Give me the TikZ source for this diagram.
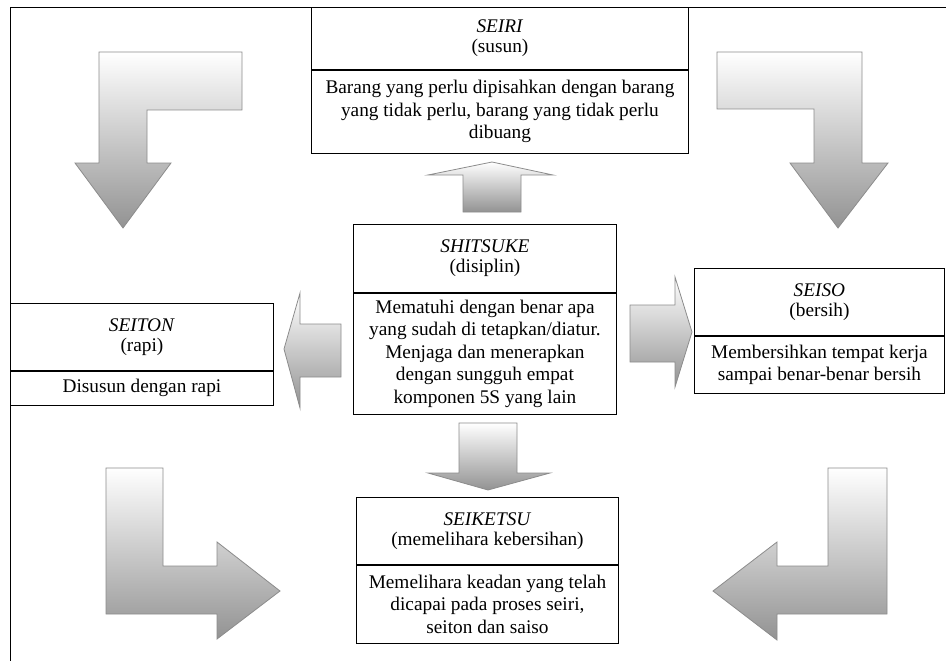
\documentclass[tikz,border=0pt]{standalone}
\usepackage{fontspec}
\setmainfont{Liberation Serif}
\usetikzlibrary{calc}

\begin{document}
\begin{tikzpicture}[x=1pt, y=-1pt,
    part/.style={draw, line width=0.9pt, anchor=north west, inner sep=0pt, align=center,
      font=\fontsize{19.3}{22.5}\selectfont},
    headpart/.style={part, font=\fontsize{19.3}{20}\selectfont},
    blockarrow/.style={draw=gray!90, line width=0.8pt, top color=white, bottom color=gray!85}]
  \useasboundingbox (0,0) rectangle (946,661);
  \draw[line width=0.9pt] (10,661) -- (10,7) -- (946,7);

  \node[headpart, minimum width=377, minimum height=62] (seirihead) at (311,7) {\textit{SEIRI}\\(susun)};
  \node[part, minimum width=377, minimum height=83] (seiribody) at (seirihead.south west)
    {Barang yang perlu dipisahkan dengan barang\\yang tidak perlu, barang yang tidak perlu\\dibuang};

  \node[headpart, minimum width=263, minimum height=68] (shitsukehead) at (353,224) {\textit{SHITSUKE}\\(disiplin)};
  \node[part, minimum width=263, minimum height=121] (shitsukebody) at (shitsukehead.south west)
    {Mematuhi dengan benar apa\\yang sudah di tetapkan/diatur.\\Menjaga dan menerapkan\\dengan sungguh empat\\komponen 5S yang lain};

  \node[headpart, minimum width=263, minimum height=67] (seitonhead) at (10,303) {\textit{SEITON}\\(rapi)};
  \node[part, minimum width=263, minimum height=34] (seitonbody) at (seitonhead.south west) {Disusun dengan rapi};

  \node[headpart, minimum width=250, minimum height=67] (seisohead) at (694,268) {\textit{SEISO}\\(bersih)};
  \node[part, minimum width=250, minimum height=57] (seisobody) at (seisohead.south west)
    {Membersihkan tempat kerja\\sampai benar-benar bersih};

  \node[headpart, minimum width=262, minimum height=67] (seiketsuhead) at (356,497) {\textit{SEIKETSU}\\(memelihara kebersihan)};
  \node[part, minimum width=262, minimum height=78] (seiketsubody) at (seiketsuhead.south west)
    {Memelihara keadan yang telah\\dicapai pada proses seiri,\\seiton dan saiso};

  \draw[blockarrow] (99,52) -- (242,52) -- (242,110) -- (147,110) -- (147,163) -- (171,163)
    -- (123,228) -- (75,163) -- (99,163) -- cycle;
  \draw[blockarrow] (717,52) -- (862,52) -- (862,163) -- (888,163) -- (838,228) -- (790,163)
    -- (814,163) -- (814,109) -- (717,109) -- cycle;
  \draw[blockarrow] (106,468) -- (163,468) -- (163,566) -- (217,566) -- (217,542) -- (280,591)
    -- (217,639) -- (217,614) -- (106,614) -- cycle;
  \draw[blockarrow] (828,468) -- (887,468) -- (887,614) -- (777,614) -- (777,640) -- (713,591)
    -- (777,542) -- (777,566) -- (828,566) -- cycle;

  \draw[blockarrow] (463,212) -- (463,175) -- (428,175) -- (492,162) -- (553,175) -- (521,175)
    -- (521,212) -- cycle;
  \draw[blockarrow] (459,423) -- (517,423) -- (517,473) -- (550,473) -- (488,490) -- (428,473)
    -- (459,473) -- cycle;
  \draw[blockarrow] (341,324) -- (341,377) -- (300,377) -- (300,408) -- (284,349) -- (300,293)
    -- (300,324) -- cycle;
  \draw[blockarrow] (630,305) -- (675,305) -- (675,277) -- (692,332) -- (675,387) -- (675,362)
    -- (630,362) -- cycle;
\end{tikzpicture}
\end{document}
